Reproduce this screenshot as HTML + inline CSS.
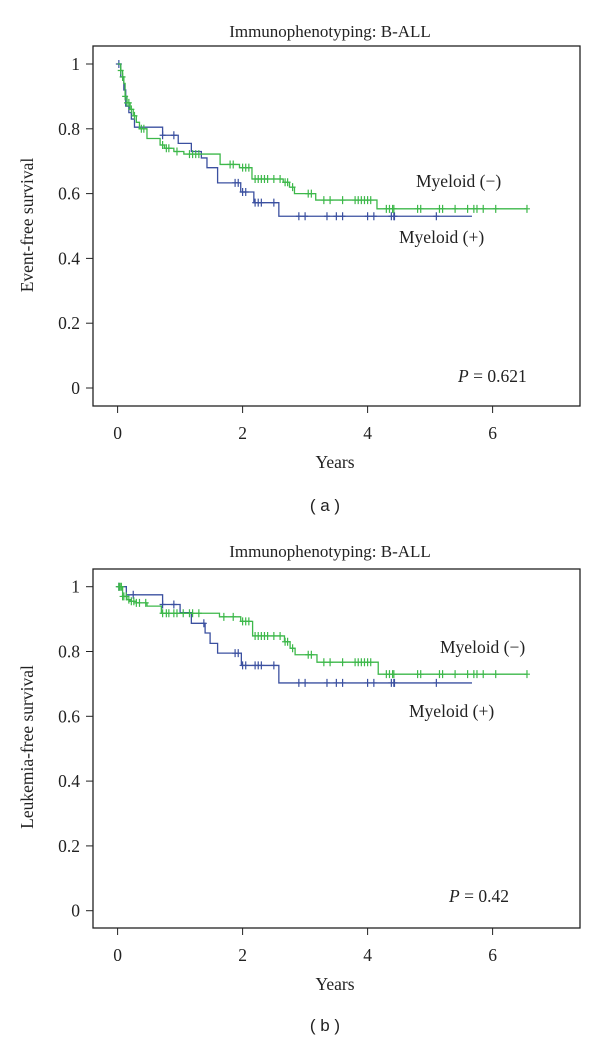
<!DOCTYPE html>
<html><head><meta charset="utf-8"><style>
html,body{margin:0;padding:0;background:#fff;}
svg{display:block;}
text{font-family:"Liberation Serif",serif;fill:#222;}
.sans{font-family:"Liberation Sans",sans-serif;}
</style></head><body>
<svg id="chart" width="600" height="1043" viewBox="0 0 600 1043"></svg>
<script>
// ---- Panel (a) data ----
const timesAGreen = [0,0.05,0.08,0.1,0.12,0.15,0.2,0.25,0.3,0.35,0.47,0.68,0.75,0.9,1.06,1.64,1.95,2.15,2.65,2.75,2.83,3.17,4.15,6.54];
const survAGreen  = [1,0.98,0.96,0.94,0.9,0.88,0.86,0.84,0.82,0.80,0.77,0.75,0.74,0.73,0.722,0.69,0.68,0.645,0.635,0.62,0.60,0.58,0.553,0.553];
const censAGreen  = [0.05,0.08,0.12,0.15,0.18,0.22,0.27,0.38,0.42,0.72,0.78,0.82,0.95,1.15,1.2,1.25,1.3,1.8,1.85,2.0,2.05,2.1,2.2,2.25,2.3,2.35,2.4,2.5,2.6,2.68,2.72,2.8,3.05,3.1,3.3,3.4,3.6,3.8,3.85,3.9,3.95,4.0,4.05,4.3,4.35,4.4,4.42,4.8,4.85,5.15,5.2,5.4,5.6,5.7,5.75,5.85,6.05,6.55];
const timesABlue  = [0,0.05,0.1,0.13,0.18,0.22,0.27,0.72,0.97,1.18,1.34,1.43,1.6,1.97,2.18,2.58,5.67];
const survABlue   = [1,0.96,0.92,0.87,0.85,0.83,0.805,0.78,0.755,0.73,0.71,0.68,0.633,0.605,0.572,0.53,0.53];
const censABlue   = [0.02,0.72,0.9,1.88,1.93,2.0,2.05,2.2,2.25,2.3,2.5,2.9,3.0,3.35,3.5,3.6,4.0,4.1,4.38,4.42,4.43,5.1];
// ---- Panel (b) data ----
const timesBGreen = [0,0.08,0.15,0.2,0.3,0.47,0.7,1.63,1.97,2.16,2.67,2.76,2.84,3.19,4.17,6.54];
const survBGreen  = [1,0.97,0.96,0.955,0.95,0.94,0.918,0.907,0.893,0.848,0.83,0.81,0.79,0.767,0.73,0.73];
const censBGreen  = [0.02,0.04,0.06,0.08,0.1,0.14,0.18,0.22,0.26,0.3,0.35,0.45,0.72,0.78,0.82,0.9,0.95,1.05,1.15,1.2,1.3,1.7,1.85,2.0,2.05,2.1,2.2,2.25,2.3,2.35,2.4,2.5,2.6,2.68,2.72,2.8,3.05,3.1,3.3,3.4,3.6,3.8,3.85,3.9,3.95,4.0,4.05,4.3,4.35,4.4,4.42,4.8,4.85,5.15,5.2,5.4,5.6,5.7,5.75,5.85,6.05,6.55];
const timesBBlue  = [0,0.14,0.72,1.0,1.18,1.4,1.48,1.6,1.98,2.58,5.67];
const survBBlue   = [1,0.975,0.945,0.92,0.887,0.857,0.825,0.795,0.757,0.703,0.703];
const censBBlue   = [0.02,0.25,0.72,0.9,1.38,1.88,1.93,2.0,2.05,2.2,2.25,2.3,2.5,2.9,3.0,3.35,3.5,3.6,4.0,4.1,4.38,4.42,4.43,5.1];
const xTicks = [0,2,4,6];
const yTicks = [0,0.2,0.4,0.6,0.8,1];
const yTickLabels = ["0","0.2","0.4","0.6","0.8","1"];

const NS = "http://www.w3.org/2000/svg";
const svg = document.getElementById('chart');
const GREEN = "#3db84a", BLUE = "#3b50a0";
function mk(tag, attrs, parent){const e=document.createElementNS(NS,tag);for(const k in attrs)e.setAttribute(k,attrs[k]);(parent||svg).appendChild(e);return e;}

function panel(cfg){
  const g = mk('g',{});
  
  
  const xS = t => 117.6 + t*62.5;
  const yS = s => cfg.y0 - s*(cfg.y0-cfg.y1);
  const t = mk('text',{x:330,y:cfg.titleY,'text-anchor':'middle','font-size':17},g);
  t.textContent = "Immunophenotyping: B-ALL";
  
  
  const box = mk('rect',{x:93,y:cfg.top,width:487,height:cfg.bottom-cfg.top,fill:'none',stroke:'#222','stroke-width':1.3},g);
  
  
  yTicks.forEach((v,i)=>{
    mk('line',{x1:86,x2:93,y1:yS(v),y2:yS(v),stroke:'#222','stroke-width':1},g);
    const l=mk('text',{x:80,y:yS(v)+6,'text-anchor':'end','font-size':17.5},g);
    l.textContent=yTickLabels[i];
    
    
  });
  xTicks.forEach(v=>{
    mk('line',{x1:xS(v),x2:xS(v),y1:cfg.bottom,y2:cfg.bottom+7,stroke:'#222','stroke-width':1},g);
    const l=mk('text',{x:xS(v),y:cfg.bottom+33,'text-anchor':'middle','font-size':17.5},g);
    l.textContent=v;
    
    
  });
  const xt=mk('text',{x:335,y:cfg.bottom+62,'text-anchor':'middle','font-size':17.5},g);
  xt.textContent="Years";
  
  
  const yt=mk('text',{x:0,y:0,'text-anchor':'middle','font-size':17.5,transform:`translate(33,${cfg.yTitleY}) rotate(-90)`},g);
  yt.textContent=cfg.yTitle;
  
  
  function curve(times,surv,cens,color,nm){
    let d=`M${xS(times[0])},${yS(surv[0])}`;
    for(let i=1;i<times.length;i++){d+=`H${xS(times[i])}V${yS(surv[i])}`;}
    const p=mk('path',{d:d,fill:'none',stroke:color,'stroke-width':1.3},g);
    
    
    cens.forEach(c=>{
      let s=surv[0];
      for(let i=0;i<times.length;i++){if(times[i]<=c)s=surv[i];}
      const x=xS(c),y=yS(s);
      const m=mk('path',{d:`M${x},${y-4}V${y+4}M${x-3},${y}H${x+3}`,stroke:color,'stroke-width':1.2},g);
      
      
    });
  }
  curve(cfg.tb,cfg.sb,cfg.cb,BLUE,'myeloid-positive');
  curve(cfg.tg,cfg.sg,cfg.cg,GREEN,'myeloid-negative');
  const l1=mk('text',{x:cfg.negX,y:cfg.negY,'font-size':17.5},g);
  l1.textContent="Myeloid (\u2212)";
  
  
  const l2=mk('text',{x:cfg.posX,y:cfg.posY,'font-size':17.5},g);
  l2.textContent="Myeloid (+)";
  
  
  const pv=mk('text',{x:cfg.pX,y:cfg.pY,'font-size':17.5},g);
  pv.innerHTML='<tspan font-style="italic">P</tspan> = '+cfg.p;
  
  
  const cap=mk('text',{x:325,y:cfg.capY,'text-anchor':'middle','font-size':17,class:'sans'},g);
  cap.textContent=cfg.cap;
  
  
}
panel({name:'panel-a',titleY:37,top:46,bottom:406,y0:388,y1:64,yTitle:'Event-free survival',yTitleY:225,
  tg:timesAGreen,sg:survAGreen,cg:censAGreen,tb:timesABlue,sb:survABlue,cb:censABlue,
  negX:416,negY:187,posX:399,posY:243,pX:458,pY:382,p:'0.621',capY:511,cap:'( a )'});
panel({name:'panel-b',titleY:557,top:569,bottom:928,y0:910.7,y1:586.7,yTitle:'Leukemia-free survival',yTitleY:747,
  tg:timesBGreen,sg:survBGreen,cg:censBGreen,tb:timesBBlue,sb:survBBlue,cb:censBBlue,
  negX:440,negY:653,posX:409,posY:717,pX:449,pY:902,p:'0.42',capY:1031,cap:'( b )'});
</script>
</body></html>
